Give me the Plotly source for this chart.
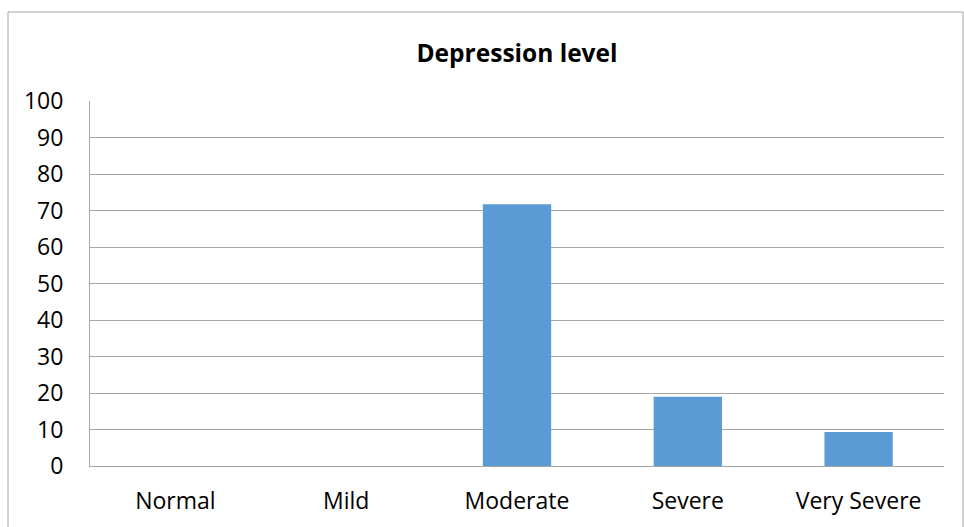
import plotly.graph_objects as go

categories = ["Normal", "Mild", "Moderate", "Severe", "Very Severe"]
values = [0, 0, 71.7, 19.0, 9.3]
y_ticks = [0, 10, 20, 30, 40, 50, 60, 70, 80, 90, 100]

W, H = 964, 527
L, R, T, B = 90, 20, 101, 61
pw, ph = W - L - R, H - T - B

fig = go.Figure(go.Bar(x=categories, y=values, marker=dict(color="#5b9bd5", line=dict(width=0)), width=0.4))

font = "'Open Sans', Carlito, Lato, sans-serif"
fig.update_layout(
    width=W, height=H,
    margin=dict(l=L, r=R, t=T, b=B),
    paper_bgcolor="white", plot_bgcolor="white",
    showlegend=False,
    font=dict(family=font, size=23, color="black"),
    title=dict(text="<b>Depression level</b>", x=(L + pw / 2) / W, xanchor="center",
               y=1 - 53 / H, yanchor="middle", font=dict(size=24.5, family=font, color="black")),
    xaxis=dict(showgrid=False, showline=True, linecolor="#a6a6a6", linewidth=1,
               ticks="", ticklabelstandoff=14, tickfont=dict(size=23)),
    yaxis=dict(range=[0, 100], tickvals=y_ticks, showgrid=True, gridcolor="#a6a6a6", gridwidth=1,
               showline=True, linecolor="#a6a6a6", linewidth=1, zeroline=False,
               ticks="", ticklabelstandoff=21, tickfont=dict(size=23)),
    shapes=[dict(type="rect", xref="paper", yref="paper",
                 x0=(8 - L) / pw, x1=(963 - L) / pw,
                 y0=-(B + 5) / ph, y1=1 + (T - 12) / ph,
                 line=dict(color="#a6a6a6", width=1), fillcolor="rgba(0,0,0,0)", layer="below")],
)
fig.write_html("out.html", config={"displayModeBar": False},
               post_script="document.body.style.margin='0';document.body.style.overflow='hidden';")
